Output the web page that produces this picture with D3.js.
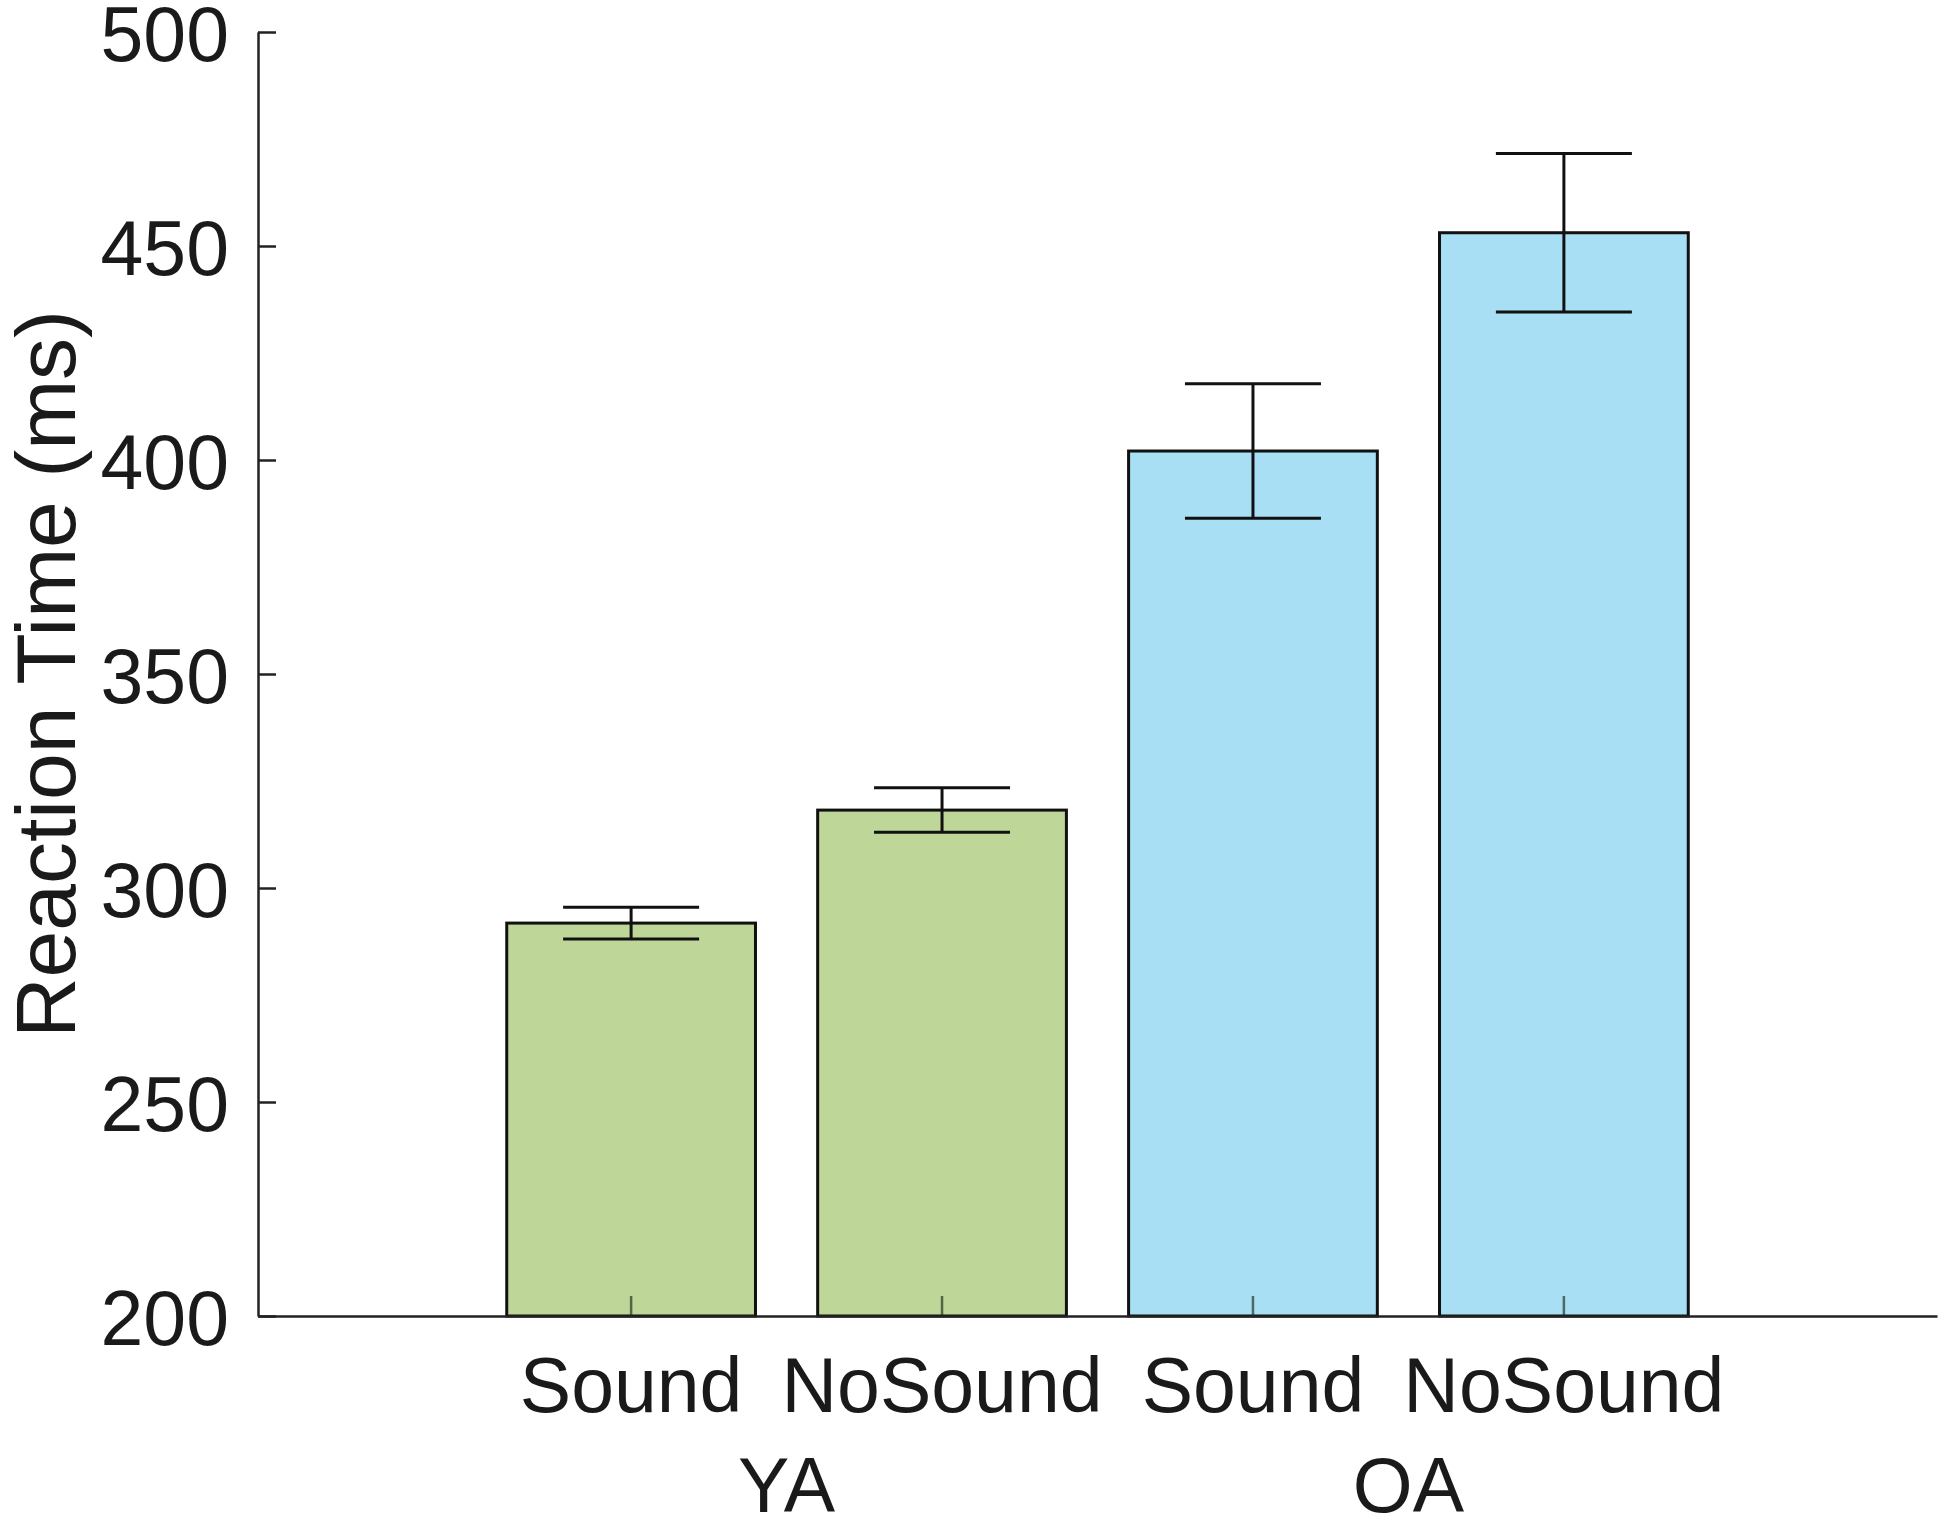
<!DOCTYPE html>
<html>
<head>
<meta charset="utf-8">
<script src="https://cdn.jsdelivr.net/npm/d3@7"></script>
<style>
  body { margin: 0; background: #fff; }
  svg text { font-family: "Liberation Sans", Arial, sans-serif; fill: #1a1a1a; }
</style>
</head>
<body>
<svg id="chart" width="1950" height="1525"></svg>
<script>
// data
const conditions = ['Sound', 'NoSound', 'Sound', 'NoSound'];
const groups = ['YA', 'YA', 'OA', 'OA'];
const groupNames = ['YA', 'OA'];
const means = [291.8, 318.2, 402.1, 453.1];
const errors = [3.7, 5.2, 15.7, 18.5];
const yTicks = [200, 250, 300, 350, 400, 450, 500];

const groupColor = { YA: '#bed798', OA: '#a8dff4' };

const svg = d3.select('#chart');
const plotLeft = 258, plotRight = 1937, plotTop = 32, plotBottom = 1316;

const x = d3.scaleBand()
  .domain(d3.range(means.length))
  .range([plotLeft, plotRight])
  .paddingInner(0.2)
  .paddingOuter(0.8);

const y = d3.scaleLinear().domain([200, 500]).range([plotBottom, plotTop]);

// bars
svg.append('g')
  .selectAll('rect')
  .data(means)
  .join('rect')
  .attr('x', (d, i) => x(i))
  .attr('y', (d) => y(d))
  .attr('width', x.bandwidth())
  .attr('height', (d) => y(200) - y(d))
  .attr('fill', (d, i) => groupColor[groups[i]])
  .attr('stroke', '#111')
  .attr('stroke-width', 3);

// error bars
const capHalf = 68;
const err = svg.append('g').attr('stroke', '#111').attr('stroke-width', 3);
means.forEach((m, i) => {
  const cx = x(i) + x.bandwidth() / 2;
  err.append('line')
    .attr('x1', cx).attr('x2', cx)
    .attr('y1', y(m + errors[i])).attr('y2', y(m - errors[i]));
  [m + errors[i], m - errors[i]].forEach((v) => {
    err.append('line')
      .attr('x1', cx - capHalf).attr('x2', cx + capHalf)
      .attr('y1', y(v)).attr('y2', y(v));
  });
});

// y axis
const yAxis = svg.append('g')
  .attr('transform', `translate(${plotLeft},0)`)
  .call(d3.axisLeft(y).tickValues(yTicks).tickSizeInner(-18).tickSizeOuter(0).tickPadding(29));
yAxis.select('.domain').attr('stroke', '#222').attr('stroke-width', 2.5);
yAxis.selectAll('.tick line').attr('stroke', '#222').attr('stroke-width', 2.5);
yAxis.selectAll('.tick text').attr('font-size', 77).attr('dy', '0.37em').attr('fill', '#1a1a1a');

// x axis
const xAxis = svg.append('g')
  .attr('transform', `translate(0,${plotBottom})`)
  .call(d3.axisBottom(x).tickFormat((i) => conditions[i]).tickSizeInner(-20).tickSizeOuter(0).tickPadding(41));
xAxis.select('.domain').attr('stroke', '#222').attr('stroke-width', 2.5);
xAxis.selectAll('.tick line').attr('stroke', '#1a2a1a').attr('stroke-opacity', 0.65).attr('stroke-width', 2.5);
xAxis.selectAll('.tick text').attr('font-size', 77).attr('fill', '#1a1a1a');

// group labels
groupNames.forEach((g) => {
  const idx = d3.range(groups.length).filter((i) => groups[i] === g);
  const cx = d3.mean(idx, (i) => x(i) + x.bandwidth() / 2);
  svg.append('text')
    .attr('x', cx)
    .attr('y', 1512)
    .attr('text-anchor', 'middle')
    .attr('font-size', 77)
    .text(g);
});

// y title
svg.append('text')
  .attr('transform', `translate(75,${(plotTop + plotBottom) / 2}) rotate(-90)`)
  .attr('text-anchor', 'middle')
  .attr('font-size', 84)
  .text('Reaction Time (ms)');
</script>
</body>
</html>
